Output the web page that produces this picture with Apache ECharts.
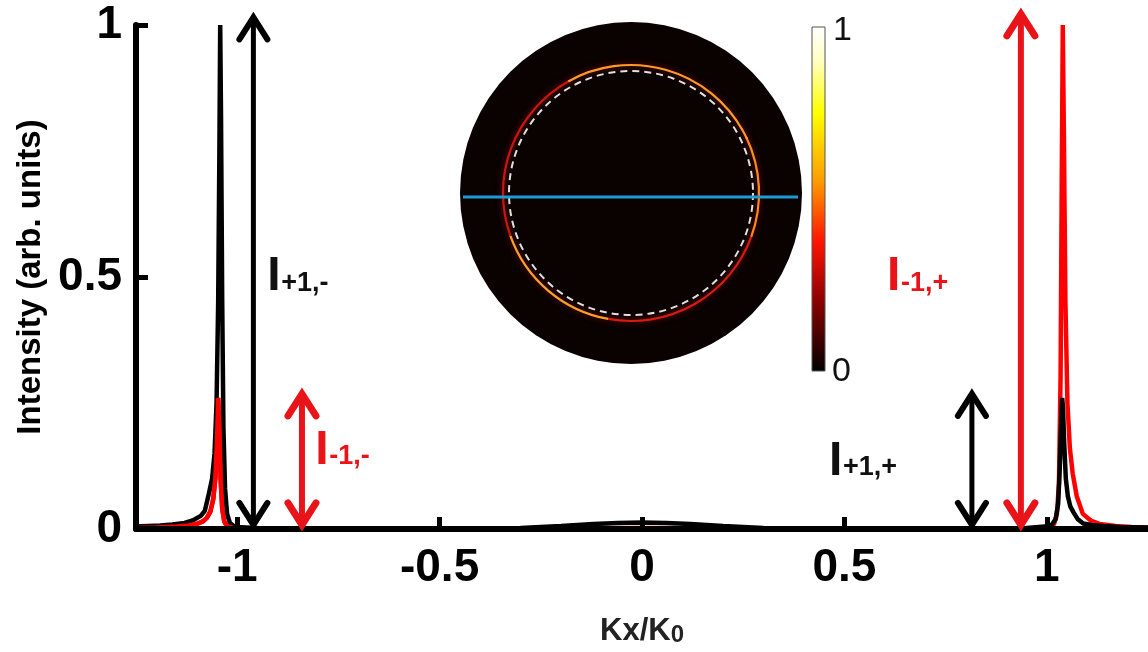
<!DOCTYPE html>
<html>
<head>
<meta charset="utf-8">
<script src="https://cdn.jsdelivr.net/npm/echarts@6/dist/echarts.min.js"></script>
<style>html,body{margin:0;padding:0;background:#fff}#c{width:1148px;height:652px}</style>
</head>
<body>
<div id="c"></div>
<script>
// ---- data ----
const blackX = [-1.25, -1.22, -1.19, -1.16, -1.13, -1.11, -1.09, -1.08, -1.07, -1.062, -1.056, -1.051, -1.047, -1.044, -1.042, -1.040, -1.037, -1.034, -1.030, -1.025, -1.018, -1.005, -0.95, -0.7, -0.4, -0.3, -0.2, -0.12, -0.06, 0, 0.06, 0.12, 0.2, 0.3, 0.4, 0.7, 0.95, 1.010, 1.022, 1.028, 1.032, 1.035, 1.038, 1.040, 1.043, 1.047, 1.052, 1.058, 1.066, 1.076, 1.09, 1.11, 1.14, 1.18, 1.25];
const blackY = [0.005, 0.006, 0.007, 0.009, 0.012, 0.017, 0.026, 0.036, 0.07, 0.10, 0.15, 0.25, 0.45, 0.75, 1.0, 0.82, 0.45, 0.2, 0.08, 0.03, 0.012, 0.004, 0.002, 0.001, 0.001, 0.002, 0.006, 0.010, 0.012, 0.013, 0.012, 0.010, 0.006, 0.002, 0.001, 0.001, 0.002, 0.006, 0.02, 0.05, 0.12, 0.2, 0.26, 0.24, 0.17, 0.1, 0.065, 0.045, 0.033, 0.02, 0.011, 0.008, 0.006, 0.004, 0.003];
const redX = [-1.25, -1.2, -1.15, -1.12, -1.1, -1.085, -1.075, -1.066, -1.059, -1.054, -1.050, -1.047, -1.044, -1.041, -1.037, -1.032, -1.025, -1.01, -0.9, -0.5, 0, 0.5, 0.9, 1.005, 1.018, 1.025, 1.030, 1.034, 1.037, 1.0395, 1.042, 1.046, 1.051, 1.057, 1.064, 1.074, 1.089, 1.11, 1.13, 1.17, 1.21, 1.25];
const redY = [0.002, 0.003, 0.005, 0.007, 0.01, 0.015, 0.022, 0.035, 0.06, 0.1, 0.17, 0.26, 0.2, 0.1, 0.04, 0.015, 0.005, 0.002, 0.001, 0.001, 0.002, 0.001, 0.001, 0.002, 0.01, 0.03, 0.09, 0.3, 0.7, 1.0, 0.8, 0.45, 0.25, 0.16, 0.11, 0.065, 0.03, 0.016, 0.01, 0.006, 0.004, 0.003];

const xTicks = [-1, -0.5, 0, 0.5, 1];
const yTicks = [0, 0.5, 1];

// double arrows: x position, bottom tip, top tip
const arrowX = [-0.960, -0.840, 0.936, 0.815];
const arrowBottom = [0.008, 0.008, 0.008, 0.008];
const arrowTop = [1.015, 0.268, 1.022, 0.268];
const arrowColor = ['#000000', '#e8141a', '#e8141a', '#000000'];

// annotation labels (left edge / baseline in data coordinates)
const labelX = [-0.926, -0.807, 0.605, 0.462];
const labelY = [0.472, 0.128, 0.472, 0.106];
const labelSub = ['+1,-', '-1,-', '-1,+', '+1,+'];
const labelColor = ['#111111', '#e8141a', '#e8141a', '#111111'];

// ---- build ----
const FONT = 'Liberation Sans, Arial, sans-serif';
const blackData = blackX.map((x, i) => [x, blackY[i]]);
const redData = redX.map((x, i) => [x, redY[i]]);
const redLeftData = redData.filter(d => d[0] <= -1.01);

const arrowData = arrowX.map((x, i) => ({ value: [x, arrowBottom[i], arrowTop[i]], itemStyle: { color: arrowColor[i] } }));
const labelData = labelX.map((x, i) => [x, labelY[i], i]);

const chart = echarts.init(document.getElementById('c'), null, { renderer: 'canvas' });

// inset (image-like decoration) geometry
const cx = 631, cy = 193;
const ringArcs = [
  [-0.45, 0.35, '#ff8a1a'],
  [0.35, 1.75, '#d81a10'],
  [1.75, 2.8, '#ffa02a'],
  [2.8, 4.2, '#cc1410'],
  [4.2, 5.85, '#ff9a28']
];
const graphics = [
  { type: 'circle', shape: { cx: cx, cy: cy, r: 171 }, style: { fill: '#0a0101' }, z: 10 }
];
ringArcs.forEach(a => graphics.push({
  type: 'arc', shape: { cx: cx, cy: cy, r: 128, startAngle: a[0], endAngle: a[1] },
  style: { stroke: a[2], lineWidth: 2.2, fill: null, shadowBlur: 6, shadowColor: 'rgba(200,40,0,0.6)' }, z: 11
}));
graphics.push(
  { type: 'circle', shape: { cx: cx, cy: cy, r: 122 }, style: { fill: null, stroke: '#e0e0e0', lineWidth: 2, lineDash: [7, 5] }, z: 12 },
  { type: 'line', shape: { x1: 463, y1: 197, x2: 798, y2: 197 }, style: { stroke: '#1b9bd8', lineWidth: 3 }, z: 13 },
  { type: 'rect', shape: { x: 812, y: 27, width: 13, height: 344 },
    style: { stroke: '#555', lineWidth: 1,
      fill: new echarts.graphic.LinearGradient(0, 0, 0, 1, [
        { offset: 0, color: '#ffffff' },
        { offset: 0.1, color: '#ffffc0' },
        { offset: 0.25, color: '#ffff00' },
        { offset: 0.45, color: '#ff9a00' },
        { offset: 0.625, color: '#ff1400' },
        { offset: 0.8, color: '#8a0000' },
        { offset: 1, color: '#000000' }
      ]) }, z: 12 },
  { type: 'text', x: 833, y: 14, style: { text: '1', fontSize: 34, fontFamily: FONT, fill: '#111' }, z: 12 },
  { type: 'text', x: 832, y: 355, style: { text: '0', fontSize: 34, fontFamily: FONT, fill: '#111' }, z: 12 }
);

chart.setOption({
  animation: false,
  backgroundColor: '#ffffff',
  grid: { left: 136, right: 0, top: 25, bottom: 119, containLabel: false },
  xAxis: {
    type: 'value', min: -1.25, max: 1.25, z: 5,
    name: '{k|Kx/K}{s2|0}', nameLocation: 'middle', nameGap: 84,
    nameTextStyle: {
      rich: {
        k: { fontSize: 31, fontWeight: 'bold', color: '#222', fontFamily: FONT, verticalAlign: 'bottom', lineHeight: 34 },
        s2: { fontSize: 24, fontWeight: 'bold', color: '#222', fontFamily: FONT, verticalAlign: 'bottom', lineHeight: 32 }
      }
    },
    axisLine: { show: true, onZero: false, lineStyle: { color: '#000', width: 6 } },
    axisTick: { show: true, inside: true, length: 12, customValues: xTicks, lineStyle: { color: '#000', width: 5 } },
    axisLabel: { customValues: xTicks, fontSize: 46, fontWeight: 'bold', color: '#000', fontFamily: FONT, margin: 16 },
    splitLine: { show: false }
  },
  yAxis: {
    type: 'value', min: 0, max: 1, z: 5,
    name: 'Intensity (arb. units)', nameLocation: 'middle', nameGap: 88,
    nameTextStyle: { fontSize: 33, fontWeight: 'bold', color: '#000', fontFamily: FONT },
    axisLine: { show: true, onZero: false, lineStyle: { color: '#000', width: 6 } },
    axisTick: { show: true, inside: true, length: 12, customValues: yTicks, lineStyle: { color: '#000', width: 5 } },
    axisLabel: { customValues: yTicks, fontSize: 46, fontWeight: 'bold', color: '#000', fontFamily: FONT, margin: 14 },
    splitLine: { show: false }
  },
  series: [
    { type: 'line', data: redData, showSymbol: false, lineStyle: { color: '#ff0000', width: 4.5 }, z: 2, silent: true },
    { type: 'line', data: blackData, showSymbol: false, lineStyle: { color: '#000000', width: 4.5 }, z: 3, silent: true },
    { type: 'line', data: redLeftData, showSymbol: false, lineStyle: { color: '#ff0000', width: 4.5 }, z: 4, silent: true },
    {
      type: 'custom', data: arrowData, z: 6, silent: true, clip: false,
      renderItem: function (params, api) {
        const x = api.value(0);
        const pb = api.coord([x, api.value(1)]);
        const pt = api.coord([x, api.value(2)]);
        const c = api.visual('color');
        const lw = c === '#000000' ? 5 : 6;
        const hw = 14, hh = 22;
        return {
          type: 'group',
          children: [
            { type: 'line', shape: { x1: pb[0], y1: pb[1] - 3, x2: pt[0], y2: pt[1] + 3 }, style: { stroke: c, lineWidth: lw } },
            { type: 'polyline', shape: { points: [[pt[0] - hw, pt[1] + hh], [pt[0], pt[1]], [pt[0] + hw, pt[1] + hh]] }, style: { stroke: c, fill: null, lineWidth: lw + 1, lineJoin: 'miter', lineCap: 'round' } },
            { type: 'polyline', shape: { points: [[pb[0] - hw, pb[1] - hh], [pb[0], pb[1]], [pb[0] + hw, pb[1] - hh]] }, style: { stroke: c, fill: null, lineWidth: lw + 1, lineJoin: 'miter', lineCap: 'round' } }
          ]
        };
      }
    },
    {
      type: 'custom', data: labelData, z: 7, silent: true, clip: false,
      renderItem: function (params, api) {
        const p = api.coord([api.value(0), api.value(1)]);
        const i = api.value(2);
        const col = labelColor[i];
        return {
          type: 'group',
          children: [
            { type: 'text', x: p[0], y: p[1] + 10, style: { text: 'I', fontSize: 48, fontWeight: 'bold', fontFamily: FONT, fill: col, align: 'left', verticalAlign: 'bottom' } },
            { type: 'text', x: p[0] + 14, y: p[1] + 5.5, style: { text: labelSub[i], fontSize: 27, fontWeight: 'bold', fontFamily: FONT, fill: col, align: 'left', verticalAlign: 'bottom' } }
          ]
        };
      }
    }
  ],
  graphic: graphics
});
</script>
</body>
</html>
